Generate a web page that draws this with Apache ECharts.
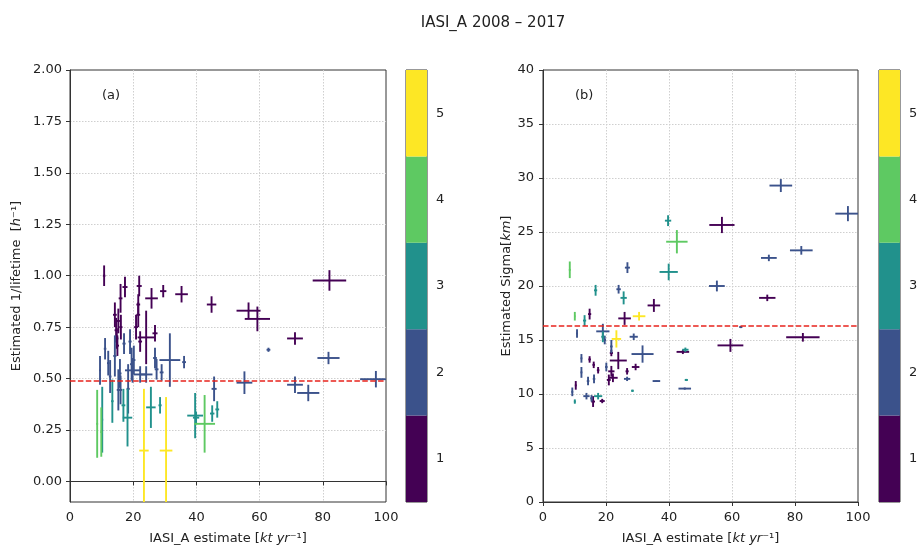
<!DOCTYPE html>
<html>
<head>
<meta charset="utf-8">
<script src="https://cdn.jsdelivr.net/npm/echarts@6/dist/echarts.min.js"></script>
<style>
  html, body { margin: 0; padding: 0; background: #fff; }
  #chart { width: 919px; height: 545px; }
</style>
</head>
<body>
<div id="chart"></div>
<script>
// Data: [x, xerr, y, yerr, class]
var pointsA = [
    [10.8, 0.4, 1.00, 0.05, 1], [17.4, 0.8, 0.945, 0.05, 1], [21.9, 0.8, 0.95, 0.05, 1],
    [25.8, 2.0, 0.89, 0.05, 1], [29.5, 1.0, 0.925, 0.03, 1], [35.3, 2.0, 0.91, 0.04, 1],
    [44.8, 1.5, 0.86, 0.04, 1], [56.5, 3.8, 0.83, 0.04, 1], [59.3, 4.0, 0.79, 0.06, 1],
    [71.2, 2.5, 0.695, 0.03, 1], [82.1, 5.3, 0.977, 0.05, 1], [16.0, 0.6, 0.89, 0.07, 1],
    [21.6, 0.6, 0.86, 0.05, 1], [14.2, 0.6, 0.81, 0.06, 1], [15.3, 0.5, 0.78, 0.06, 1],
    [14.6, 0.5, 0.735, 0.06, 1], [16.1, 0.5, 0.75, 0.06, 1], [14.8, 0.5, 0.695, 0.05, 1],
    [20.9, 0.6, 0.75, 0.06, 1], [21.6, 0.6, 0.81, 0.06, 1], [24.1, 2.7, 0.70, 0.13, 1],
    [26.9, 0.8, 0.72, 0.04, 1], [22.2, 0.6, 0.68, 0.05, 1], [15.0, 0.5, 0.66, 0.05, 1],

    [11.1, 0.4, 0.645, 0.052, 2], [9.5, 0.3, 0.54, 0.07, 2], [12.1, 0.4, 0.575, 0.06, 2],
    [12.7, 0.4, 0.51, 0.08, 2], [14.2, 0.5, 0.61, 0.10, 2], [15.8, 0.5, 0.525, 0.07, 2],
    [15.3, 0.5, 0.445, 0.10, 2], [16.0, 0.5, 0.445, 0.07, 2], [17.1, 0.5, 0.67, 0.05, 2],
    [18.4, 0.5, 0.45, 0.12, 2], [19.0, 0.5, 0.68, 0.06, 2], [19.5, 0.5, 0.57, 0.08, 2],
    [19.8, 2.4, 0.54, 0.06, 2], [20.2, 0.5, 0.59, 0.07, 2], [22.2, 2.0, 0.52, 0.04, 2],
    [24.1, 2.0, 0.52, 0.04, 2], [26.9, 0.6, 0.60, 0.05, 2], [27.4, 0.6, 0.545, 0.05, 2],
    [29.0, 0.6, 0.53, 0.04, 2], [31.6, 3.3, 0.59, 0.13, 2], [36.1, 0.6, 0.58, 0.03, 2],
    [45.6, 0.8, 0.45, 0.06, 2], [55.2, 2.5, 0.48, 0.055, 2], [62.8, 0.6, 0.64, 0.01, 2],
    [71.2, 2.5, 0.47, 0.04, 2], [75.4, 3.5, 0.43, 0.04, 2], [81.8, 3.5, 0.60, 0.03, 2],
    [96.8, 5.0, 0.497, 0.04, 2],

    [10.2, 0.3, 0.30, 0.16, 3], [13.4, 0.4, 0.39, 0.105, 3], [16.9, 0.6, 0.37, 0.08, 3],
    [18.2, 1.5, 0.31, 0.14, 3], [25.6, 1.5, 0.36, 0.10, 3], [28.5, 0.5, 0.37, 0.04, 3],
    [39.6, 2.5, 0.32, 0.11, 3], [39.9, 1.0, 0.31, 0.03, 3], [45.0, 0.7, 0.33, 0.04, 3],
    [46.6, 0.6, 0.35, 0.04, 3],

    [8.6, 0.3, 0.28, 0.165, 4], [9.9, 0.3, 0.24, 0.12, 4], [42.6, 3.3, 0.28, 0.14, 4],

    [23.4, 1.5, 0.15, 0.30, 5], [30.4, 2.0, 0.15, 0.26, 5]
];

var pointsB = [
    [56.8, 4.0, 25.65, 0.75, 1], [71.2, 2.6, 18.9, 0.3, 1], [82.5, 5.3, 15.25, 0.4, 1],
    [59.5, 4.1, 14.5, 0.6, 1], [35.2, 2.0, 18.2, 0.6, 1], [25.9, 2.0, 17.0, 0.6, 1],
    [14.8, 0.5, 17.4, 0.5, 1], [23.9, 2.7, 13.1, 0.8, 1], [21.7, 0.5, 13.8, 0.3, 1],
    [44.4, 2.0, 13.9, 0.2, 1], [14.8, 0.4, 13.2, 0.3, 1], [16.1, 0.4, 12.7, 0.3, 1],
    [17.5, 0.4, 12.2, 0.3, 1], [21.7, 1.0, 12.1, 0.5, 1], [26.7, 0.5, 12.1, 0.3, 1],
    [29.4, 1.2, 12.5, 0.3, 1], [22.2, 1.5, 11.5, 0.4, 1], [20.9, 0.6, 11.3, 0.5, 1],
    [10.4, 0.3, 10.8, 0.4, 1], [15.9, 0.6, 9.3, 0.5, 1], [18.8, 0.8, 9.35, 0.2, 1],

    [75.5, 3.6, 29.3, 0.6, 2], [96.8, 4.0, 26.7, 0.7, 2], [82.0, 3.6, 23.3, 0.4, 2],
    [71.7, 2.5, 22.6, 0.3, 2], [55.2, 2.5, 20.0, 0.5, 2], [26.8, 0.8, 21.7, 0.5, 2],
    [24.0, 0.7, 19.7, 0.4, 2], [62.8, 0.5, 16.2, 0.1, 2], [10.8, 0.3, 15.6, 0.4, 2],
    [19.0, 2.1, 15.8, 0.7, 2], [19.6, 0.4, 15.0, 0.4, 2], [28.8, 1.3, 15.3, 0.3, 2],
    [21.7, 0.4, 14.4, 0.6, 2], [31.6, 3.5, 13.7, 0.8, 2], [12.2, 0.3, 13.3, 0.4, 2],
    [20.1, 0.4, 12.5, 0.4, 2], [12.2, 0.3, 12.0, 0.5, 2], [14.3, 0.4, 11.2, 0.4, 2],
    [16.2, 0.4, 11.4, 0.4, 2], [26.7, 1.0, 11.4, 0.2, 2], [36.0, 1.2, 11.2, 0.05, 2],
    [9.3, 0.3, 10.2, 0.4, 2], [13.8, 1.0, 9.8, 0.3, 2], [15.4, 0.4, 9.6, 0.3, 2],
    [45.0, 2.0, 10.5, 0.1, 2],

    [39.7, 1.0, 26.05, 0.5, 3], [39.9, 2.9, 21.3, 0.77, 3], [16.7, 0.5, 19.6, 0.5, 3],
    [25.6, 1.0, 18.9, 0.6, 3], [13.2, 0.5, 16.8, 0.5, 3], [19.0, 0.5, 15.3, 0.5, 3],
    [45.2, 1.0, 14.1, 0.2, 3], [45.5, 0.5, 11.3, 0.1, 3], [28.4, 0.4, 10.3, 0.1, 3],
    [17.5, 1.3, 9.8, 0.3, 3], [10.1, 0.3, 9.3, 0.2, 3],

    [8.5, 0.3, 21.5, 0.77, 4], [42.5, 3.4, 24.1, 1.08, 4], [10.1, 0.2, 17.2, 0.4, 4],

    [30.5, 2.0, 17.2, 0.4, 5], [23.3, 1.5, 15.1, 0.8, 5]
];

var refLineA = 0.493;
var refLineB = 16.3;
var colorLevels = [1, 2, 3, 4, 5];
var levelColors = ['#440154', '#3b528b', '#21918c', '#5ec962', '#fde725'];
var ticksA = [0, 0.25, 0.5, 0.75, 1, 1.25, 1.5, 1.75, 2];

var chart = echarts.init(document.getElementById('chart'), null, { renderer: 'canvas' });

var font = 'DejaVu Sans';
var fs = 13;
var textColor = '#222';
var gridLine = {
    show: true, showMinLine: false, showMaxLine: false,
    lineStyle: { color: '#cfcfcf', type: [1.5, 1.5], width: 1 }
};
var nameStyle = {
    fontFamily: font, fontSize: fs, color: textColor,
    rich: { i: { fontFamily: font, fontSize: fs, fontStyle: 'italic', color: textColor } }
};

// cross-shaped error bars
var renderErrorBar = function(params, api) {
    var x = api.value(0), xe = api.value(1), y = api.value(2), ye = api.value(3);
    var color = levelColors[api.value(4) - 1];
    var l = api.coord([x - xe, y]), r = api.coord([x + xe, y]);
    var t = api.coord([x, y + ye]), b = api.coord([x, y - ye]);
    var style = { stroke: color, lineWidth: 1.9 };
    return {
        type: 'group',
        children: [
            { type: 'line', shape: { x1: l[0], y1: l[1], x2: r[0], y2: r[1] }, style: style },
            { type: 'line', shape: { x1: t[0], y1: t[1], x2: b[0], y2: b[1] }, style: style }
        ]
    };
};

var renderColorBar = function(params, api) {
    var v = api.value(0);
    var p0 = api.coord([0, v + 0.5]), p1 = api.coord([1, v - 0.5]);
    return {
        type: 'rect',
        shape: { x: p0[0], y: p0[1], width: p1[0] - p0[0], height: p1[1] - p0[1] },
        style: { fill: levelColors[v - 1] }
    };
};

var valueAxisX = function(gridIndex) {
    return {
        type: 'value', gridIndex: gridIndex, min: 0, max: 100, interval: 20,
        name: 'IASI_A estimate [{i|kt yr}⁻¹]', nameLocation: 'middle', nameGap: 30,
        nameTextStyle: nameStyle,
        axisLine: { show: true, lineStyle: { color: '#333', width: 1 } },
        axisTick: { show: true, inside: false, length: 4, lineStyle: { color: '#333' } },
        axisLabel: { fontFamily: font, fontSize: fs, color: textColor, margin: 9 },
        splitLine: gridLine
    };
};

var colorBarAxes = function(gridIndex) {
    return {
        x: { type: 'value', gridIndex: gridIndex, min: 0, max: 1, show: false },
        y: {
            type: 'value', gridIndex: gridIndex, min: 0.5, max: 5.5, position: 'right',
            axisLine: { show: false },
            axisTick: { show: true, length: 4, customValues: colorLevels, lineStyle: { color: '#333' } },
            axisLabel: { fontFamily: font, fontSize: fs, color: textColor, margin: 9, customValues: colorLevels },
            splitLine: { show: false }
        }
    };
};

var cbA = colorBarAxes(1), cbB = colorBarAxes(3);

var gridBase = { top: 70, height: 432, show: true, borderColor: '#333', borderWidth: 1,
    containLabel: false, outerBoundsMode: 'none' };
var makeGrid = function(left, width) {
    return Object.assign({}, gridBase, { left: left, width: width });
};

var option = {
    animation: false,
    backgroundColor: '#fff',
    title: {
        text: 'IASI_A 2008 – 2017',
        left: 488, top: 11, textAlign: 'center',
        textStyle: { fontFamily: font, fontSize: 15, fontWeight: 'normal', color: textColor }
    },
    grid: [makeGrid(70, 316), makeGrid(406, 21), makeGrid(543, 315), makeGrid(879, 21)],
    xAxis: [valueAxisX(0), cbA.x, valueAxisX(2), cbB.x],
    yAxis: [
        {
            type: 'value', gridIndex: 0, min: -0.1, max: 2,
            name: 'Estimated 1/lifetime  [{i|h}⁻¹]', nameLocation: 'middle', nameGap: 47,
            nameTextStyle: nameStyle,
            axisLine: { show: true, lineStyle: { color: '#333', width: 1 } },
            axisTick: { show: true, length: 4, customValues: ticksA, lineStyle: { color: '#333' } },
            axisLabel: { fontFamily: font, fontSize: fs, color: textColor, margin: 8, customValues: ticksA,
                formatter: function(v) { return v.toFixed(2); } },
            splitLine: gridLine
        },
        cbA.y,
        {
            type: 'value', gridIndex: 2, min: 0, max: 40, interval: 5,
            name: 'Estimated Sigma[{i|km}]', nameLocation: 'middle', nameGap: 30,
            nameTextStyle: nameStyle,
            axisLine: { show: true, lineStyle: { color: '#333', width: 1 } },
            axisTick: { show: true, length: 4, lineStyle: { color: '#333' } },
            axisLabel: { fontFamily: font, fontSize: fs, color: textColor, margin: 9 },
            splitLine: gridLine
        },
        cbB.y
    ],
    graphic: [
        { type: 'text', left: 102, top: 89, style: { text: '(a)', font: '13px "DejaVu Sans"', fill: textColor } },
        { type: 'text', left: 575, top: 89, style: { text: '(b)', font: '13px "DejaVu Sans"', fill: textColor } }
    ],
    series: [
        {
            name: 'lifetime', type: 'custom', xAxisIndex: 0, yAxisIndex: 0, clip: true,
            renderItem: renderErrorBar, encode: { x: 0, y: 2 }, data: pointsA,
            markLine: {
                silent: true, symbol: 'none', label: { show: false },
                lineStyle: { color: '#e8231c', type: [5.5, 2.4], width: 1.6 },
                data: [{ yAxis: refLineA }]
            }
        },
        {
            name: 'colorbar a', type: 'custom', xAxisIndex: 1, yAxisIndex: 1,
            renderItem: renderColorBar, encode: { y: 0 }, data: colorLevels.map(function(v) { return [v]; })
        },
        {
            name: 'sigma', type: 'custom', xAxisIndex: 2, yAxisIndex: 2, clip: true,
            renderItem: renderErrorBar, encode: { x: 0, y: 2 }, data: pointsB,
            markLine: {
                silent: true, symbol: 'none', label: { show: false },
                lineStyle: { color: '#e8231c', type: [5.5, 2.4], width: 1.6 },
                data: [{ yAxis: refLineB }]
            }
        },
        {
            name: 'colorbar b', type: 'custom', xAxisIndex: 3, yAxisIndex: 3,
            renderItem: renderColorBar, encode: { y: 0 }, data: colorLevels.map(function(v) { return [v]; })
        }
    ]
};

chart.setOption(option);
</script>
</body>
</html>
